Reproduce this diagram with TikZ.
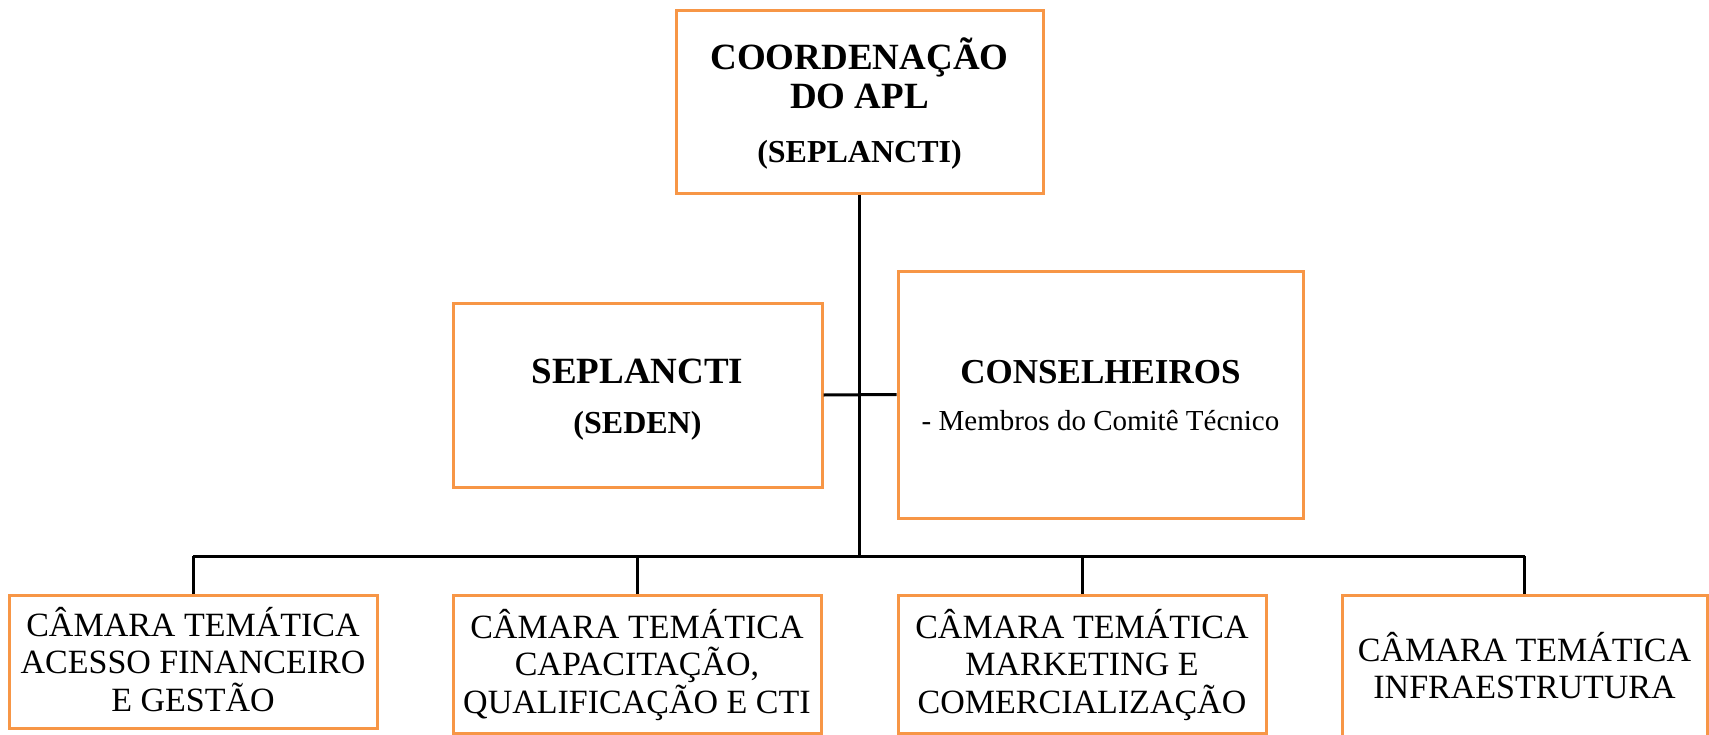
\documentclass[tikz,border=0pt]{standalone}
\usepackage{fontspec}
\setmainfont{Liberation Serif}
\definecolor{boxorange}{HTML}{F79646}
\tikzset{
  orgbox/.style={draw=boxorange, line width=3pt, rectangle, inner sep=0pt, fill=white},
  conn/.style={draw=black, line width=3pt},
  txt/.style={anchor=base, inner sep=0pt, outer sep=0pt},
  bigbold/.style={font=\bfseries\fontsize{37}{40}\selectfont},
  midbold/.style={font=\bfseries\fontsize{32}{36}\selectfont},
  consbold/.style={font=\bfseries\fontsize{35}{40}\selectfont},
  smalltxt/.style={font=\fontsize{29}{33}\selectfont},
  camtxt/.style={font=\fontsize{34}{37.5}\selectfont},
}
\begin{document}
\begin{tikzpicture}[x=1pt,y=-1pt]
\useasboundingbox (0,0) rectangle (1709,734);

% boxes
\node[orgbox, minimum width=367pt, minimum height=183pt] (top) at (859.5,101.5) {};
\node[orgbox, minimum width=369pt, minimum height=184pt] (sep) at (637.5,395) {};
\node[orgbox, minimum width=405pt, minimum height=247pt] (cons) at (1100.5,394.5) {};
\node[orgbox, minimum width=368pt, minimum height=133pt] (b1) at (193,661.5) {};
\node[orgbox, minimum width=368pt, minimum height=138pt] (b2) at (637,664) {};
\node[orgbox, minimum width=368pt, minimum height=138pt] (b3) at (1082,664) {};
\node[orgbox, minimum width=365pt, minimum height=150pt] (b4) at (1524.5,670) {};

% connectors
\coordinate (hub) at (859.5,556);
\draw[conn] (top.south) -- (hub);
\draw[conn] (b1.north |- hub) -- (b4.north |- hub);
\draw[conn] (b1.north) -- (b1.north |- hub);
\draw[conn] (b2.north) -- (b2.north |- hub);
\draw[conn] (b3.north) -- (b3.north |- hub);
\draw[conn] (b4.north) -- (b4.north |- hub);
\draw[conn] (sep.east) -- (cons.west);

% texts
\node[txt, bigbold] (t1) at (859.5,69) {COORDENAÇÃO};
\node[txt, bigbold] (t2) at (859.5,108) {DO APL};
\node[txt, midbold] (t3) at (859.5,162) {(SEPLANCTI)};

\node[txt, bigbold] (s1) at (637.5,383) {SEPLANCTI};
\node[txt, midbold] (s2) at (637.5,433) {(SEDEN)};

\node[txt, consbold] (c1) at (1100.5,383) {CONSELHEIROS};
\node[txt, smalltxt] (c2) at (1100.5,430) {- Membros do Comitê Técnico};

\node[txt, camtxt] (b1a) at (193,636) {CÂMARA TEMÁTICA};
\node[txt, camtxt] (b1b) at (193,673.5) {ACESSO FINANCEIRO};
\node[txt, camtxt] (b1c) at (193,711) {E GESTÃO};

\node[txt, camtxt] (b2a) at (637,638) {CÂMARA TEMÁTICA};
\node[txt, camtxt] (b2b) at (637,675.5) {CAPACITAÇÃO,};
\node[txt, camtxt] (b2c) at (637,713) {QUALIFICAÇÃO E CTI};

\node[txt, camtxt] (b3a) at (1082,638) {CÂMARA TEMÁTICA};
\node[txt, camtxt] (b3b) at (1082,675.5) {MARKETING E};
\node[txt, camtxt] (b3c) at (1082,713) {COMERCIALIZAÇÃO};

\node[txt, camtxt] (b4a) at (1524.5,661) {CÂMARA TEMÁTICA};
\node[txt, camtxt] (b4b) at (1524.5,698) {INFRAESTRUTURA};
\end{tikzpicture}
\end{document}
